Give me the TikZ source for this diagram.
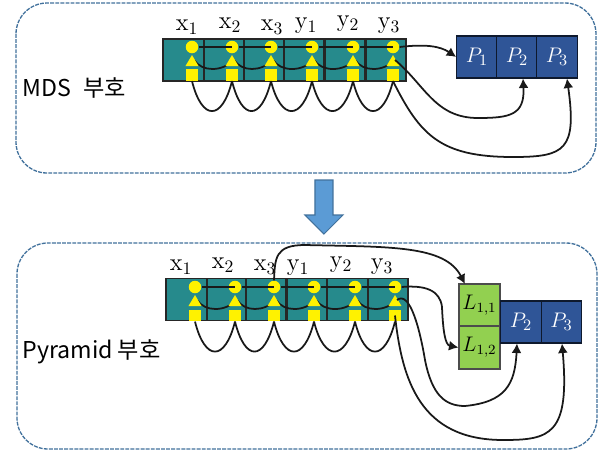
\documentclass[tikz,border=0pt]{standalone}
\usepackage{fontspec}
\usepackage{amsmath}
\newfontfamily\krfont{Noto Sans CJK KR}
\usetikzlibrary{arrows.meta}
\definecolor{cellc}{HTML}{268A8C}
\definecolor{pblue}{HTML}{2F5597}
\definecolor{lgreen}{HTML}{92D050}
\definecolor{frame}{HTML}{41719C}
\definecolor{barrow}{HTML}{5B9BD5}
\tikzset{
 x=0.02cm,y=-0.02cm,
 panel/.style={draw=frame,line width=0.75pt,dash pattern=on 2.2pt off 0.7pt,rounded corners=0.62cm},
 cell/.style={draw=black!85,fill=cellc,line width=0.95pt,minimum width=0.81cm,minimum height=0.84cm,inner sep=0pt},
 pbox/.style={draw=black!70!pblue,fill=pblue,line width=0.6pt,minimum width=0.81cm,minimum height=0.84cm,inner sep=0pt,text=white,font=\fontsize{13}{15}\selectfont},
 lbox/.style={draw=black!70,fill=lgreen,line width=0.6pt,minimum width=0.82cm,minimum height=0.86cm,inner sep=0pt,font=\fontsize{12}{14}\selectfont},
 dot/.style={circle,fill=yellow,minimum size=0.25cm,inner sep=0pt},
 sq/.style={rectangle,fill=yellow,minimum size=0.23cm,inner sep=0pt},
 tri/.style={fill=yellow},
 link/.style={draw=black!90,line width=1pt},
 arr/.style={link,-{Latex[length=0.19cm,width=0.2cm]}},
 lab/.style={inner sep=0pt,font=\fontsize{14}{16}\selectfont},
 title/.style={inner sep=0pt,anchor=west,font=\krfont\fontsize{13.2}{15}\selectfont},
}
\begin{document}
\begin{tikzpicture}
\useasboundingbox (0,0) rectangle (600,454);
\fill[white] (0,0) rectangle (600,454);
\draw[panel] (16,3) rectangle (596,173);
\draw[panel] (17,243) rectangle (597,449);
\node[title] (t1) at (22,88) {MDS\hspace{4pt} 부호};
\node[title] (t2) at (22,352) {Pyramid 부호};
% block arrow
\draw[draw=frame,fill=barrow,line width=0.6pt] (315,180)--(333,180)--(333,215)--(343,215)--(324,234)--(305,215)--(315,215)--cycle;
% ---------- top row
\foreach \i/\cx/\gx in {1/183.5/192,2/224/232,3/264/271,4/304/312,5/345/353,6/386/393}{
 \node[cell] (a\i) at (\cx,60) {};
 \coordinate (at\i) at (\gx+2,60);
}
\foreach \i/\j in {1/2,2/3,3/4,4/5,5/6}{
 \draw[link] (at\i) .. controls +(8,12) and +(-12,12) .. (at\j);
}
\foreach \i/\gx in {1/192,2/232,3/271,4/312,5/353,6/393}{
 \fill[tri] (\gx,55)--(\gx+6.5,66)--(\gx-6.5,66)--cycle;
 \node[dot] (ac\i) at (\gx,47) {};
 \node[sq] (as\i) at (\gx,75) {};
}
\foreach \i/\j in {1/2,2/3,3/4,4/5,5/6}{
 \draw[link] (ac\i.east)--(ac\j.center);
 \draw[link] (as\i.south) .. controls +(10,40) and +(-10,40) .. (as\j.south);
}
\node[lab] (al1) at (187,27) {$\mathrm{x}_1$};
\node[lab] (al2) at (230,25) {$\mathrm{x}_2$};
\node[lab] (al3) at (272,27) {$\mathrm{x}_3$};
\node[lab] (al4) at (306,26) {$\mathrm{y}_1$};
\node[lab] (al5) at (348,24) {$\mathrm{y}_2$};
\node[lab] (al6) at (389,26) {$\mathrm{y}_3$};
\node[pbox] (p1) at (477,57) {$P_1$};
\node[pbox] (p2) at (517,57) {$P_2$};
\node[pbox] (p3) at (557,57) {$P_3$};
\draw[arr] (ac6.east) .. controls (425,44) and (440,46) .. (p1.west);
\draw[arr] (at6) .. controls (425,85) and (435,118) .. (478,118) .. controls (510,118) and (525,115) .. (523,78.5);
\draw[arr] (as6.south) .. controls (420,135) and (440,157) .. (513,157) .. controls (565,157) and (577,150) .. (567,78.5);
% ---------- bottom row
\foreach \i/\cx/\gx in {1/186.5/195,2/227/235,3/266/274,4/307/314,5/347.5/355,6/388/395}{
 \node[cell] (b\i) at (\cx,299.5) {};
 \coordinate (bt\i) at (\gx+2,300);
}
\foreach \i/\j in {1/2,2/3,3/4,4/5,5/6}{
 \draw[link] (bt\i) .. controls +(8,12) and +(-12,12) .. (bt\j);
}
\foreach \i/\gx in {1/195,2/235,3/274,4/314,5/355,6/395}{
 \fill[tri] (\gx,295)--(\gx+6.5,306)--(\gx-6.5,306)--cycle;
 \node[dot] (bc\i) at (\gx,287) {};
 \node[sq] (bs\i) at (\gx,315.5) {};
}
\node[lab] (bl1) at (181,267) {$\mathrm{x}_1$};
\node[lab] (bl2) at (223,265) {$\mathrm{x}_2$};
\node[lab] (bl3) at (265,267) {$\mathrm{x}_3$};
\node[lab] (bl4) at (298,268) {$\mathrm{y}_1$};
\node[lab] (bl5) at (341,265) {$\mathrm{y}_2$};
\node[lab] (bl6) at (382,267) {$\mathrm{y}_3$};
\foreach \i/\j in {1/2,2/3,3/4,4/5,5/6}{
 \draw[link] (bc\i.east)--(bc\j.center);
 \draw[link] (bs\i.south) .. controls +(10,40) and +(-10,40) .. (bs\j.south);
}
\node[lbox] (l1) at (479.5,305.5) {$L_{1,1}$};
\node[lbox] (l2) at (479.5,347.5) {$L_{1,2}$};
\node[pbox] (q2) at (521,322) {$P_2$};
\node[pbox] (q3) at (561.5,322) {$P_3$};
\draw[arr] (bc3.north) .. controls (275,258) and (275,245) .. (305,245) .. controls (390,247) and (445,245) .. (465,284);
\draw[arr] (bc6.east) .. controls (425,285) and (440,290) .. (442,307) .. controls (443,330) and (445,345) .. (l2.west);
\draw[arr] (bt6) .. controls (410,290) and (420,330) .. (425,360) .. controls (432,395) and (445,406) .. (465,406) .. controls (505,402) and (515,385) .. (517,343.5);
\draw[arr] (bs6.center) .. controls (402,380) and (420,440) .. (503,440) .. controls (550,440) and (570,435) .. (562,343.5);
\end{tikzpicture}
\end{document}
